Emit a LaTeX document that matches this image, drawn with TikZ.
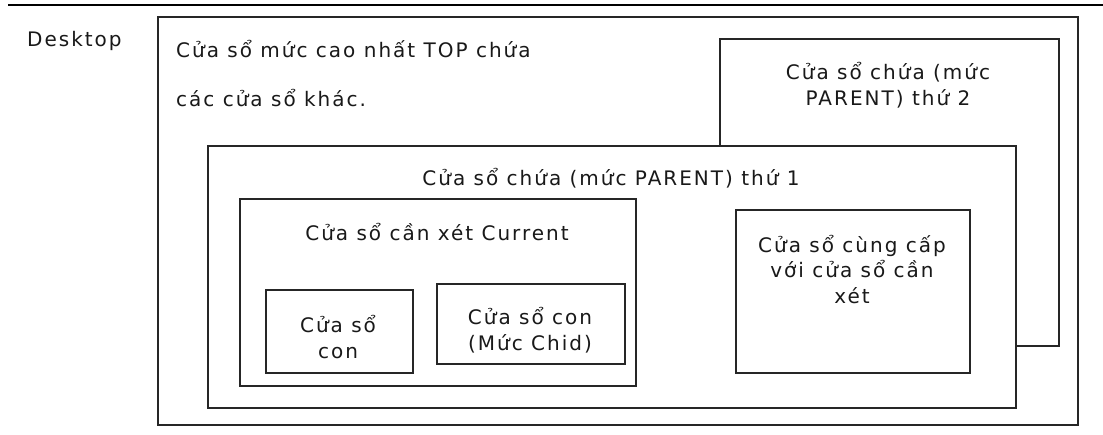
\documentclass[tikz,border=0pt]{standalone}
\usepackage{fontspec}
\setmainfont{DejaVu Sans}[LetterSpace=10]
\begin{document}
\begin{tikzpicture}[x=1pt,y=-1pt,
  winbox/.style={draw=black!85, line width=2pt, fill=white, anchor=north west, inner sep=0pt},
  lbl/.style={text=black!90, font=\fontsize{20}{25.5}\selectfont, inner sep=0pt, align=center, anchor=base},
  lbll/.style={lbl, align=left, anchor=base west}]
\useasboundingbox (0,0) rectangle (1103,434);
\coordinate (l0) at (8,5);
\coordinate (l1) at (1103,5);
\draw[line width=2.5pt, black] (l0) -- (l1);
\node[lbll] (desk) at (27,46) {Desktop};
% top-level window
\node[winbox, minimum width=920pt, minimum height=408pt] (top) at (157,16) {};
\node[lbll] (toptxt1) at (176,57) {Cửa sổ mức cao nhất TOP chứa};
\node[lbll] (toptxt2) at (176,106) {các cửa sổ khác.};
% parent 2
\node[winbox, minimum width=339pt, minimum height=307pt] (par2) at (719,38) {};
\node[lbl] (par2txt) at (888,105) {Cửa sổ chứa (mức\\PARENT) thứ 2};
% parent 1
\node[winbox, minimum width=808pt, minimum height=262pt] (par1) at (207,145) {};
\node[lbl] (par1txt) at (611,185) {Cửa sổ chứa (mức PARENT) thứ 1};
% current
\node[winbox, minimum width=396pt, minimum height=187pt] (cur) at (239,198) {};
\node[lbl] (curtxt) at (437,240) {Cửa sổ cần xét Current};
% children
\node[winbox, minimum width=147pt, minimum height=83pt] (ch1) at (265,289) {};
\node[lbl] (ch1txt) at (338,358) {Cửa sổ\\con};
\node[winbox, minimum width=188pt, minimum height=80pt] (ch2) at (436,283) {};
\node[lbl] (ch2txt) at (530,350) {Cửa sổ con\\(Mức Chid)};
% sibling
\node[winbox, minimum width=234pt, minimum height=163pt] (sib) at (735,209) {};
\node[lbl] (sibtxt) at (852,303) {Cửa sổ cùng cấp\\với cửa sổ cần\\xét};
\end{tikzpicture}
\end{document}
